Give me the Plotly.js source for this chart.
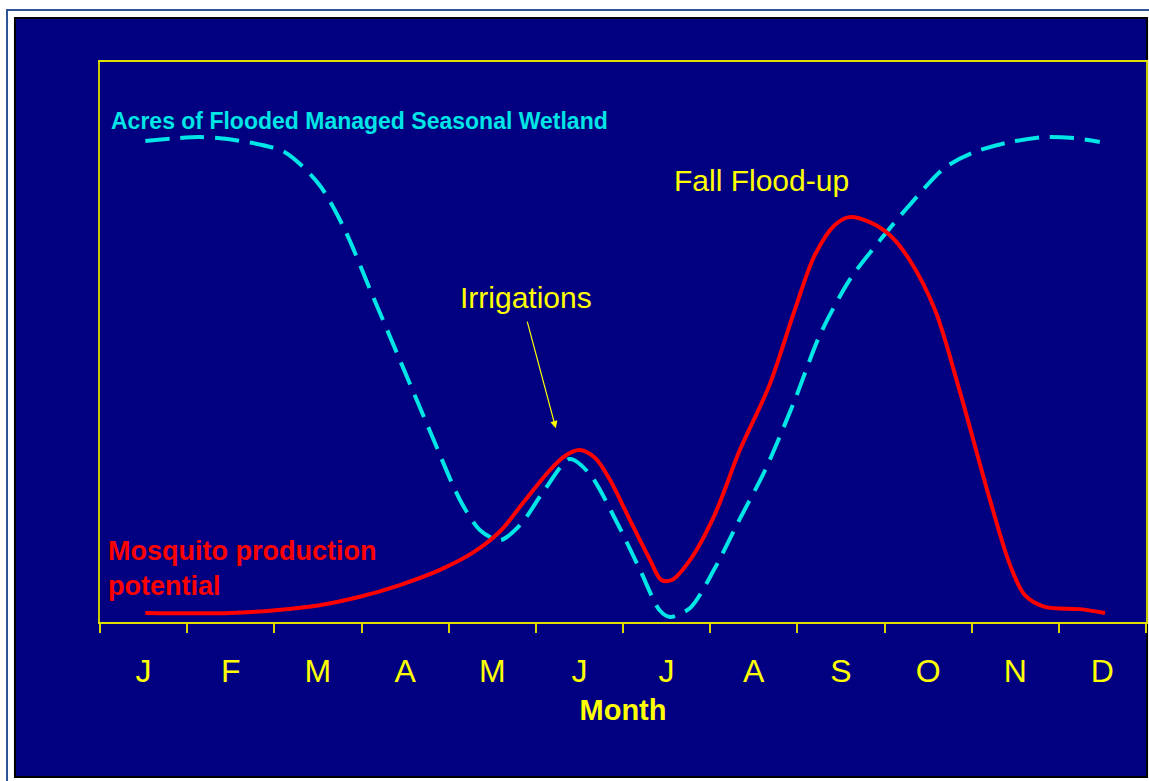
<!DOCTYPE html>
<html>
<head>
<meta charset="utf-8">
<script src="https://cdn.plot.ly/plotly-3.0.1.min.js"></script>
<style>html,body{margin:0;padding:0;background:#fff;}#chart{width:1149px;height:781px;}</style>
</head>
<body>
<div id="chart"></div>
<script>
// Month labels (placed at mid-month)
const monthLabels = ['J','F','M','A','M','J','J','A','S','O','N','D'];
const monthCenters = [0.5,1.5,2.5,3.5,4.5,5.5,6.5,7.5,8.5,9.5,10.5,11.5];
const monthBounds = [0,1,2,3,4,5,6,7,8,9,10,11,12];

// Acres of flooded managed seasonal wetland (relative index 0-100), x in months
const wetlandX = [0.52,1.15,1.61,2.12,2.52,2.81,3.10,3.44,3.78,4.13,4.36,4.59,4.82,5.10,5.39,5.62,5.91,6.19,6.42,6.54,6.77,7.05,7.34,7.63,7.97,8.26,8.60,8.95,9.29,9.69,10.03,10.44,10.84,11.18,11.47];
const wetlandY = [85.9,86.6,85.9,83.9,78.0,70.0,59.3,46.8,34.3,21.8,16.4,14.6,17.3,23.6,29.1,26.4,18.4,9.5,2.1,0.9,2.5,9.5,18.4,27.1,39.6,51.3,61.1,68.2,74.5,81.1,83.9,85.7,86.6,86.4,85.7];

// Mosquito production potential (relative index 0-100)
const mosquitoX = [0.52,1.49,2.01,2.52,2.98,3.44,3.90,4.30,4.59,4.87,5.16,5.33,5.50,5.68,5.85,6.08,6.31,6.44,6.56,6.77,7.05,7.34,7.68,7.97,8.20,8.43,8.60,8.83,9.06,9.29,9.58,9.86,10.21,10.44,10.61,10.84,11.24,11.53];
const mosquitoY = [1.6,1.6,2.1,3.0,4.5,6.6,9.3,12.6,16.2,21.6,27.1,29.6,30.7,29.3,25.4,18.2,11.1,7.5,7.5,11.1,19.1,30.7,42.3,55.7,65.5,70.9,72.3,71.4,69.1,64.6,55.7,41.4,21.8,10.2,4.8,2.7,2.3,1.6];

const FONT = 'Arial, "Liberation Sans", sans-serif';
const YEL = '#FFFF00';

const traces = [
  {
    x: wetlandX, y: wetlandY, type: 'scatter', mode: 'lines',
    name: 'Acres of Flooded Managed Seasonal Wetland',
    line: {color: '#00E5E5', width: 4, dash: '24px,11px', shape: 'spline', smoothing: 0.8},
    hoverinfo: 'skip'
  },
  {
    x: mosquitoX, y: mosquitoY, type: 'scatter', mode: 'lines',
    name: 'Mosquito production potential',
    line: {color: '#FF0000', width: 4, shape: 'spline', smoothing: 0.9},
    hoverinfo: 'skip'
  },
  {
    x: monthCenters, y: monthCenters.map(() => null), xaxis: 'x2', yaxis: 'y',
    type: 'scatter', mode: 'lines', showlegend: false, hoverinfo: 'skip'
  }
];

const layout = {
  width: 1149, height: 781,
  margin: {l: 100, r: 3, t: 62, b: 159},
  paper_bgcolor: '#FFFFFF',
  plot_bgcolor: 'rgba(0,0,0,0)',
  showlegend: false,
  font: {family: FONT, color: YEL},
  xaxis: {
    range: [0, 12], tickvals: monthBounds, showticklabels: false,
    ticks: 'outside', ticklen: 9, tickcolor: '#D8D800', tickwidth: 2,
    showline: true, linecolor: '#E0E000', linewidth: 2, mirror: true,
    showgrid: false, zeroline: false,
    title: {text: '<b>Month</b>', font: {family: FONT, size: 29, color: YEL}, standoff: 68}
  },
  xaxis2: {
    overlaying: 'x', side: 'bottom', range: [0, 12],
    tickvals: monthCenters, ticktext: monthLabels, ticks: '',
    tickfont: {family: FONT, size: 32, color: YEL},
    ticklabelstandoff: 27,
    showline: false, showgrid: false, zeroline: false
  },
  yaxis: {
    range: [0, 100], showticklabels: false, ticks: '',
    showline: true, linecolor: '#C8C800', linewidth: 2, mirror: true,
    showgrid: false, zeroline: false
  },
  shapes: [
    {type: 'rect', xref: 'paper', yref: 'paper', layer: 'below',
     x0: -0.0889, x1: 1.01, y0: -0.29, y1: 1.0929,
     line: {color: '#2F5597', width: 2}, fillcolor: '#FFFFFF'},
    {type: 'rect', xref: 'paper', yref: 'paper', layer: 'below',
     x0: -0.0813, x1: 1.001, y0: -0.2768, y1: 1.0786,
     line: {color: '#000000', width: 2}, fillcolor: '#000080'}
  ],
  annotations: [
    {x: 0.1, y: 89.5, xref: 'x', yref: 'y', xanchor: 'left', yanchor: 'middle',
     text: '<b>Acres of Flooded Managed Seasonal Wetland</b>', showarrow: false,
     font: {family: FONT, size: 23, color: '#00E5E5'}},
    {x: 6.56, y: 78.9, xref: 'x', yref: 'y', xanchor: 'left', yanchor: 'middle',
     text: 'Fall Flood-up', showarrow: false,
     font: {family: FONT, size: 30, color: YEL}},
    {x: 4.885, y: 57.9, xref: 'x', yref: 'y', xanchor: 'center', yanchor: 'middle',
     text: 'Irrigations', showarrow: false,
     font: {family: FONT, size: 30, color: YEL}},
    {x: 5.229, y: 34.6, xref: 'x', yref: 'y', ax: 4.897, ay: 53.9, axref: 'x', ayref: 'y',
     text: '', showarrow: true, arrowhead: 2, arrowsize: 1.2, arrowwidth: 1.2, arrowcolor: YEL},
    {x: 0.07, y: 9.6, xref: 'x', yref: 'y', xanchor: 'left', yanchor: 'middle', align: 'left',
     text: '<b>Mosquito production<br>potential</b>', showarrow: false,
     font: {family: FONT, size: 27, color: '#FF0000'}}
  ]
};

Plotly.newPlot('chart', traces, layout, {displayModeBar: false, staticPlot: true});
</script>
</body>
</html>
